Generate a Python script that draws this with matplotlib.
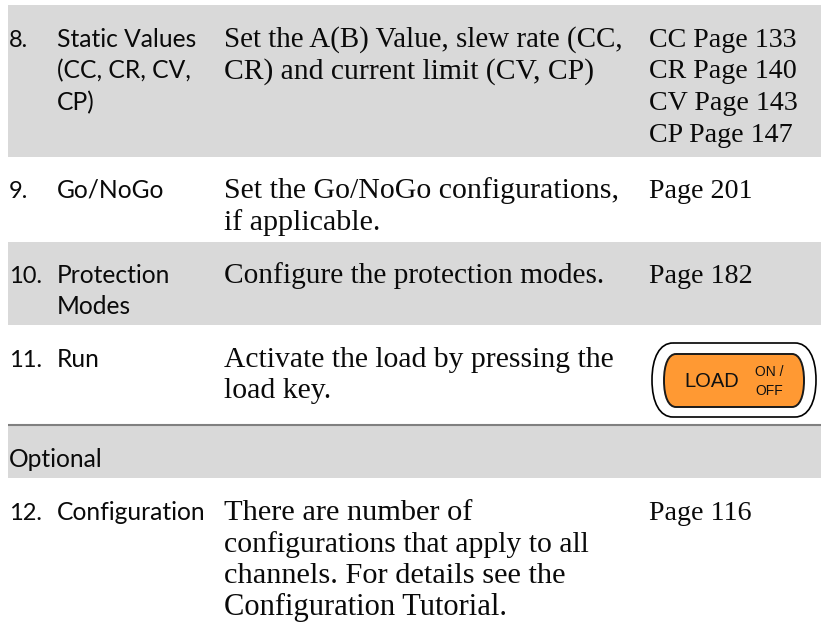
import matplotlib
matplotlib.use('Agg')
import matplotlib.pyplot as plt
from matplotlib.patches import PathPatch, Rectangle
from matplotlib.path import Path

# --- Conteudo da tabela ---
step_lines = [
    ['8.'], ['9.'], ['10.'], ['11.'], ['12.'],
]
name_lines = [
    ['Static Values', '(CC, CR, CV,', 'CP)'],
    ['Go/NoGo'],
    ['Protection', 'Modes'],
    ['Run'],
    ['Configuration'],
]
desc_lines = [
    ['Set the A(B) Value, slew rate (CC,', 'CR) and current limit (CV, CP)'],
    ['Set the Go/NoGo configurations,', 'if applicable.'],
    ['Configure the protection modes.'],
    ['Activate the load by pressing the', 'load key.'],
    ['There are number of', 'configurations that apply to all', 'channels. For details see the', 'Configuration Tutorial.'],
]
page_lines = [
    ['CC Page 133', 'CR Page 140', 'CV Page 143', 'CP Page 147'],
    ['Page 201'],
    ['Page 182'],
    [],
    ['Page 116'],
]
optional_label = 'Optional'

# --- Layout (pixels) ---
baselines = [47, 198, 283, 367, 520]
desc_sizes = [
    [20.9, 21.3],
    [21.5, 21.6],
    [21.2],
    [21.3, 21.5],
    [21.9, 21.4, 21.9, 22.0],
]
line_h = 31.5
x_step, x_name, x_desc, x_page = 9, 57, 224, 649
sans = 'Lato'
serif = 'Liberation Serif'

fig = plt.figure(figsize=(8.21, 6.25), dpi=100)
ax = fig.add_axes([0, 0, 1, 1])
ax.set_xlim(0, 821)
ax.set_ylim(625, 0)
ax.axis('off')

# faixas cinza
for top, bottom in [(5, 157), (242, 325), (425, 478)]:
    ax.add_patch(Rectangle((8, top), 813, bottom - top, fc='#d9d9d9', ec='none'))
ax.plot([8, 821], [425, 425], color='#808080', lw=1.5, solid_capstyle='butt')


def put_lines(x, y0, lines, family, sizes):
    for i, s in enumerate(lines):
        ax.text(x, y0 + i * line_h, s, family=family, fontsize=sizes[i],
                va='baseline', ha='left', color='#0a0a0a')


for i, y in enumerate(baselines):
    put_lines(x_step, y, step_lines[i], sans, [17])
    put_lines(x_name, y, name_lines[i], sans, [17.7] * 3)
    put_lines(x_desc, y, desc_lines[i], serif, desc_sizes[i])
    put_lines(x_page, y, page_lines[i], serif, [20.2] * 4)
ax.text(x_step, 467, optional_label, family=sans, fontsize=17.7, va='baseline', color='#0a0a0a')


def barrel(x0, x1, y0, y1, inset, k=0.62):
    # contorno do botao, lados curvos (quase elipse nas pontas)
    m = (y0 + y1) / 2
    dx = inset * k
    dy = (y1 - y0) / 2 * k
    v = [(x0 + inset, y0), (x1 - inset, y0),
         (x1 - inset + dx, y0), (x1, m - dy), (x1, m),
         (x1, m + dy), (x1 - inset + dx, y1), (x1 - inset, y1),
         (x0 + inset, y1),
         (x0 + inset - dx, y1), (x0, m + dy), (x0, m),
         (x0, m - dy), (x0 + inset - dx, y0), (x0 + inset, y0)]
    c = [Path.MOVETO, Path.LINETO,
         Path.CURVE4, Path.CURVE4, Path.CURVE4,
         Path.CURVE4, Path.CURVE4, Path.CURVE4,
         Path.LINETO,
         Path.CURVE4, Path.CURVE4, Path.CURVE4,
         Path.CURVE4, Path.CURVE4, Path.CURVE4]
    return Path(v, c)


ax.add_patch(PathPatch(barrel(652, 816, 343, 417, 21), fc='white', ec='black', lw=1.2))
ax.add_patch(PathPatch(barrel(664, 804, 354, 407, 12), fc='#ff9933', ec='#1a1a1a', lw=1.4))
ax.text(684, 387, 'LOAD', family='Liberation Sans', fontsize=14.5, va='baseline', color='#111111')
ax.text(755, 376, 'ON /', family='Liberation Sans', fontsize=10, va='baseline', color='#111111')
ax.text(755, 395, 'OFF', family='Liberation Sans', fontsize=10, va='baseline', color='#111111')

fig.savefig('out.png', dpi=100)
